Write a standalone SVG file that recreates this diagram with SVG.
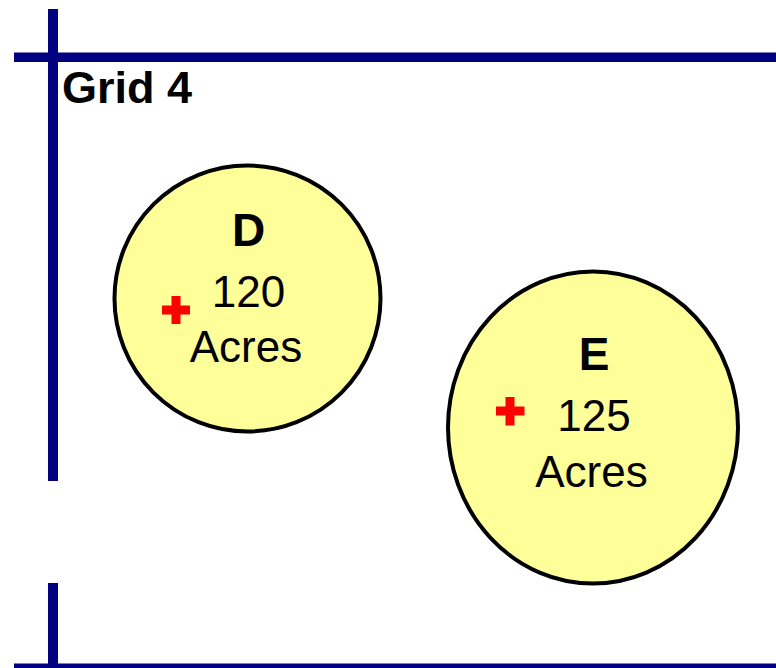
<svg xmlns="http://www.w3.org/2000/svg" width="776" height="668" viewBox="0 0 776 668">
<style>
.grid{fill:#000080}
.field{fill:#FFFF99;stroke:#000;stroke-width:4}
.cross{fill:#FF0000}
text{font-family:"Liberation Sans",Arial,sans-serif;fill:#000;text-anchor:middle}
.name{font-weight:bold;font-size:46px}
.num{font-size:44px}
.title{font-weight:bold;font-size:45px;text-anchor:start}
</style>
<rect width="776" height="668" fill="#fff"/>
<g id="gridlines">
<rect class="grid" x="48" y="9" width="10" height="472"/>
<rect class="grid" x="48" y="583" width="10" height="85"/>
<rect class="grid" x="14" y="52.5" width="762" height="9.5"/>
<rect class="grid" x="14" y="663.5" width="762" height="4.5"/>
</g>
<text class="title" x="62" y="103">Grid 4</text>
<g id="fieldD">
<ellipse class="field" cx="247.5" cy="298.5" rx="133" ry="133"/>
<rect class="cross" x="171.5" y="296" width="9" height="28"/>
<rect class="cross" x="162" y="305.5" width="28" height="9"/>
<text class="name" x="248.5" y="246">D</text>
<text class="num" x="248.5" y="307">120</text>
<text class="num" x="246" y="362">Acres</text>
</g>
<g id="fieldE">
<ellipse class="field" cx="593" cy="427.5" rx="145" ry="156"/>
<rect class="cross" x="505.5" y="397" width="9" height="28.5"/>
<rect class="cross" x="496" y="406.5" width="28.5" height="9"/>
<text class="name" x="594" y="370">E</text>
<text class="num" x="594" y="431">125</text>
<text class="num" x="591.5" y="487">Acres</text>
</g>
</svg>
